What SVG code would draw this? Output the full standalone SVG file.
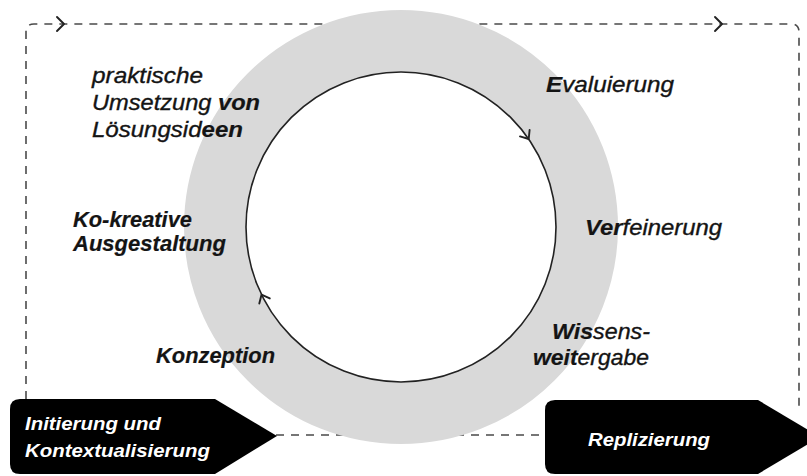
<svg xmlns="http://www.w3.org/2000/svg" width="807" height="476" viewBox="0 0 807 476">
<style>
.lbl{font-family:"Liberation Sans",Arial,sans-serif;font-style:italic;font-size:22px;fill:#141414;font-weight:normal;stroke:#141414;stroke-width:0.35}
.b{font-weight:bold;stroke-width:0.2}
.wl{font-family:"Liberation Sans",Arial,sans-serif;font-style:italic;font-size:19px;fill:#fff;font-weight:bold}
.dash{fill:none;stroke:#4a4a4a;stroke-width:1.6;stroke-dasharray:8 7}
.chev{fill:none;stroke:#222;stroke-width:1.9;stroke-linecap:round;stroke-linejoin:round}
.box{fill:#000}
</style>
<rect width="807" height="476" fill="#fff"/>
<g id="connectors">
  <path class="dash" d="M26 399 V32 Q26 24 34 24 H791 Q799 24 799 32 V410"/>
  <path class="dash" d="M276 435 H545"/>
  <polyline class="chev" points="57,17 64,24 57,31"/>
  <polyline class="chev" points="715,17 722,24 715,31"/>
</g>
<g id="cycle">
  <circle cx="401" cy="227" r="186" fill="none" stroke="#d9d9d9" stroke-width="62"/>
  <circle cx="401" cy="227" r="155" fill="#fff" stroke="#222" stroke-width="1.6"/>
  <polyline class="chev" points="529.6,130 528.7,139 520,136.4"/>
  <polyline class="chev" points="259.3,303.5 261.5,294.7 269.8,298.4"/>
</g>
<g id="node-praktische">
  <text class="lbl" x="92" y="83" textLength="111" lengthAdjust="spacingAndGlyphs">praktische</text>
  <text class="lbl" x="92" y="110" textLength="168" lengthAdjust="spacingAndGlyphs">Umsetzung <tspan class="b">von</tspan></text>
  <text class="lbl" x="92" y="137" textLength="151" lengthAdjust="spacingAndGlyphs">Lösungsid<tspan class="b">een</tspan></text>
</g>
<g id="node-evaluierung">
  <text class="lbl" x="546" y="92" textLength="128" lengthAdjust="spacingAndGlyphs"><tspan class="b">E</tspan>valuierung</text>
</g>
<g id="node-kokreativ">
  <text class="lbl b" x="73" y="227" textLength="119" lengthAdjust="spacingAndGlyphs">Ko-kreative</text>
  <text class="lbl b" x="73" y="251" textLength="153" lengthAdjust="spacingAndGlyphs">Ausgestaltung</text>
</g>
<g id="node-verfeinerung">
  <text class="lbl" x="585" y="235" textLength="137" lengthAdjust="spacingAndGlyphs"><tspan class="b">Ver</tspan>feinerung</text>
</g>
<g id="node-konzeption">
  <text class="lbl b" x="156" y="363" textLength="119" lengthAdjust="spacingAndGlyphs">Konzeption</text>
</g>
<g id="node-wissen">
  <text class="lbl" x="552" y="339" textLength="98" lengthAdjust="spacingAndGlyphs"><tspan class="b">Wis</tspan>sens-</text>
  <text class="lbl" x="533" y="365" textLength="116" lengthAdjust="spacingAndGlyphs"><tspan class="b">weit</tspan>ergabe</text>
</g>
<g id="node-initiierung">
  <path class="box" d="M20 399 H215 L277 436 L215 474 H20 Q10 474 10 464 V409 Q10 399 20 399 Z"/>
  <text class="wl" x="25" y="430" textLength="136" lengthAdjust="spacingAndGlyphs">Initierung und</text>
  <text class="wl" x="25" y="457" textLength="185" lengthAdjust="spacingAndGlyphs">Kontextualisierung</text>
</g>
<g id="node-replizierung">
  <path class="box" d="M555 400 H758 L820 437 L758 474 H555 Q545 474 545 464 V410 Q545 400 555 400 Z"/>
  <text class="wl" x="588" y="446" textLength="122" lengthAdjust="spacingAndGlyphs">Replizierung</text>
</g>
</svg>
